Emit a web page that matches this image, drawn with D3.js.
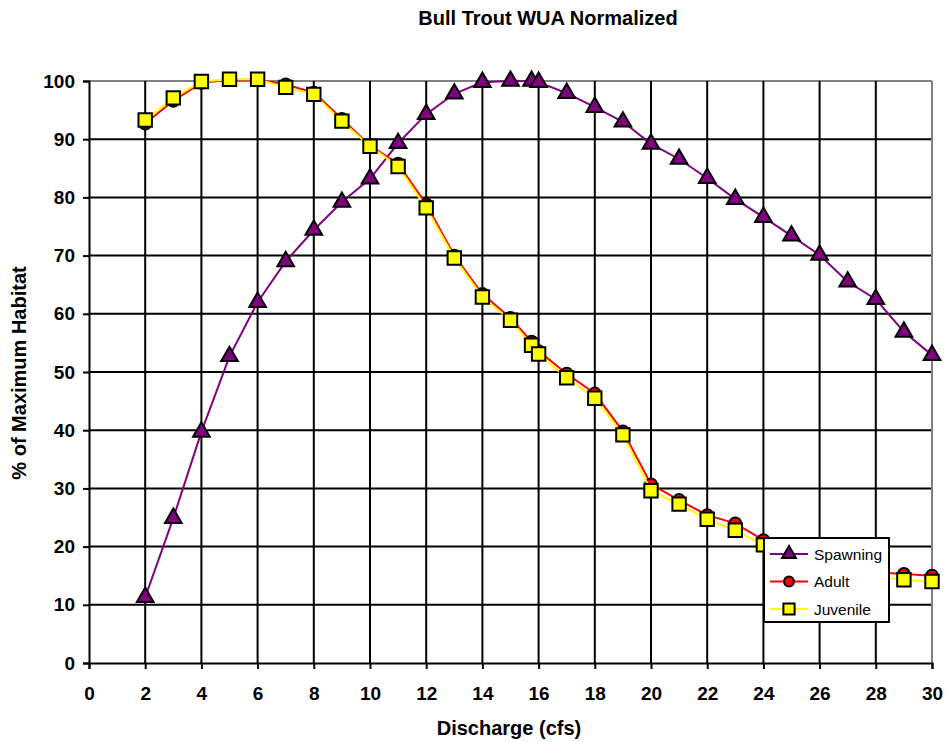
<!DOCTYPE html>
<html>
<head>
<meta charset="utf-8">
<script src="https://cdn.jsdelivr.net/npm/d3@7"></script>
<style>
  body { margin: 0; background: #fff; }
  text { font-family: "Liberation Sans", Arial, sans-serif; }
</style>
</head>
<body>
<div id="chart"></div>
<script>
// discharge (cfs) sample points
const discharge = [2, 3, 4, 5, 6, 7, 8, 9, 10, 11, 12, 13, 14, 15, 15.75,
  16, 17, 18, 19, 20, 21, 22, 23, 24, 25, 26, 27, 28, 29, 30];

// % of maximum habitat per life stage
const spawning = [11.3, 24.9, 39.7, 52.7, 62, 69, 74.4, 79.2, 83.2, 89.3, 94.3, 97.8, 99.8, 100, 100,
  99.8, 97.9, 95.5, 93, 89.2, 86.6, 83.3, 79.7, 76.6, 73.4, 70.1, 65.5, 62.5, 56.9, 52.9];
const adult = [92.7, 96.6, 99.7, 100.2, 100.2, 99.4, 98.0, 93.5, 88.9, 85.8, 78.8, 70.0, 63.4, 59.3, 55.2,
  53.6, 49.7, 46.3, 39.8, 30.7, 28.0, 25.4, 24.0, 21.1, 19.3, 17.6, 16.4, 15.6, 15.3, 15.0];
const juvenile = [93.3, 97.1, 99.9, 100.3, 100.3, 98.9, 97.7, 93.1, 88.8, 85.3, 78.2, 69.6, 62.9, 58.9, 54.6,
  53.1, 49.0, 45.5, 39.2, 29.6, 27.3, 24.7, 22.8, 20.3, 18.5, 16.9, 15.6, 14.8, 14.3, 14.0];

const xTicks = d3.range(0, 31, 2);
const yTicks = d3.range(0, 101, 10);

const svgWidth = 949;
const svgHeight = 742;
const margin = { top: 81, right: 17, bottom: 79, left: 89 };
const width = svgWidth - margin.left - margin.right;
const height = svgHeight - margin.top - margin.bottom;

const svg = d3.select("#chart")
  .append("svg")
  .attr("width", svgWidth)
  .attr("height", svgHeight);

const chartGroup = svg.append("g")
  .attr("transform", `translate(${margin.left}, ${margin.top})`);

const x = d3.scaleLinear().domain([0, 30]).range([0, width]);
const y = d3.scaleLinear().domain([0, 100]).range([height, 0]);

// horizontal gridlines
chartGroup.append("g")
  .selectAll("line")
  .data(yTicks.filter(d => d > 0))
  .enter()
  .append("line")
  .attr("x1", 0)
  .attr("x2", width)
  .attr("y1", d => y(d))
  .attr("y2", d => y(d))
  .attr("stroke", d => d === 100 ? "#808080" : "#000")
  .attr("stroke-width", 2);

// vertical gridlines
chartGroup.append("g")
  .selectAll("line")
  .data(xTicks.filter(d => d > 0))
  .enter()
  .append("line")
  .attr("x1", d => x(d))
  .attr("x2", d => x(d))
  .attr("y1", 0)
  .attr("y2", height)
  .attr("stroke", d => d === 30 ? "#808080" : "#000")
  .attr("stroke-width", 2);

// axes
const bottomAxis = d3.axisBottom(x).tickValues(xTicks).tickSize(6).tickPadding(18);
const leftAxis = d3.axisLeft(y).tickValues(yTicks).tickSize(6).tickPadding(8);

const xAxis = chartGroup.append("g")
  .attr("transform", `translate(0, ${height})`)
  .call(bottomAxis);

const yAxis = chartGroup.append("g")
  .call(leftAxis);

[xAxis, yAxis].forEach(ax => {
  ax.select(".domain").attr("stroke", "#000").attr("stroke-width", 2);
  ax.selectAll(".tick line").attr("stroke", "#000").attr("stroke-width", 2);
  ax.selectAll(".tick text")
    .attr("fill", "#000")
    .style("font-family", "'Liberation Sans', Arial, sans-serif")
    .style("font-size", "19px")
    .style("font-weight", "bold");
});

// series
const series = [
  { name: "Spawning", values: spawning, color: "#800080", marker: d3.symbolTriangle, size: 120 },
  { name: "Adult", values: adult, color: "#ff0000", marker: d3.symbolCircle, size: 110 },
  { name: "Juvenile", values: juvenile, color: "#ffff00", marker: d3.symbolSquare, size: 180 }
];

const line = d3.line()
  .x(d => x(d[0]))
  .y(d => y(d[1]));

series.forEach(s => {
  const pts = discharge.map((q, i) => [q, s.values[i]]);
  chartGroup.append("path")
    .datum(pts)
    .attr("d", line)
    .attr("fill", "none")
    .attr("stroke", s.color)
    .attr("stroke-width", 2);

  chartGroup.append("g")
    .selectAll("path")
    .data(pts)
    .enter()
    .append("path")
    .attr("d", d3.symbol().type(s.marker).size(s.size))
    .attr("transform", d => `translate(${x(d[0])}, ${y(d[1])})`)
    .attr("fill", s.color)
    .attr("stroke", "#000")
    .attr("stroke-width", 2);
});

// legend
const legend = svg.append("g")
  .attr("transform", "translate(764, 538)");

legend.append("rect")
  .attr("width", 125)
  .attr("height", 84)
  .attr("fill", "#fff")
  .attr("stroke", "#000")
  .attr("stroke-width", 2);

series.forEach((s, i) => {
  const row = legend.append("g")
    .attr("transform", `translate(0, ${16 + i * 27.5})`);
  row.append("line")
    .attr("x1", 6)
    .attr("x2", 44)
    .attr("stroke", s.color)
    .attr("stroke-width", 2);
  row.append("path")
    .attr("d", d3.symbol().type(s.marker).size(s.size * 0.7))
    .attr("transform", "translate(25, 0)")
    .attr("fill", s.color)
    .attr("stroke", "#000")
    .attr("stroke-width", 2);
  row.append("text")
    .attr("x", 50)
    .attr("y", 5.5)
    .style("font-size", "15.5px")
    .text(s.name);
});

// titles
svg.append("text")
  .attr("x", 548)
  .attr("y", 25)
  .attr("text-anchor", "middle")
  .style("font-size", "20px")
  .style("font-weight", "bold")
  .text("Bull Trout WUA Normalized");

svg.append("text")
  .attr("x", 509)
  .attr("y", 735)
  .attr("text-anchor", "middle")
  .style("font-size", "20px")
  .style("font-weight", "bold")
  .text("Discharge (cfs)");

svg.append("text")
  .attr("transform", "translate(26, 373) rotate(-90)")
  .attr("text-anchor", "middle")
  .style("font-size", "20px")
  .style("font-weight", "bold")
  .text("% of Maximum Habitat");
</script>
</body>
</html>
